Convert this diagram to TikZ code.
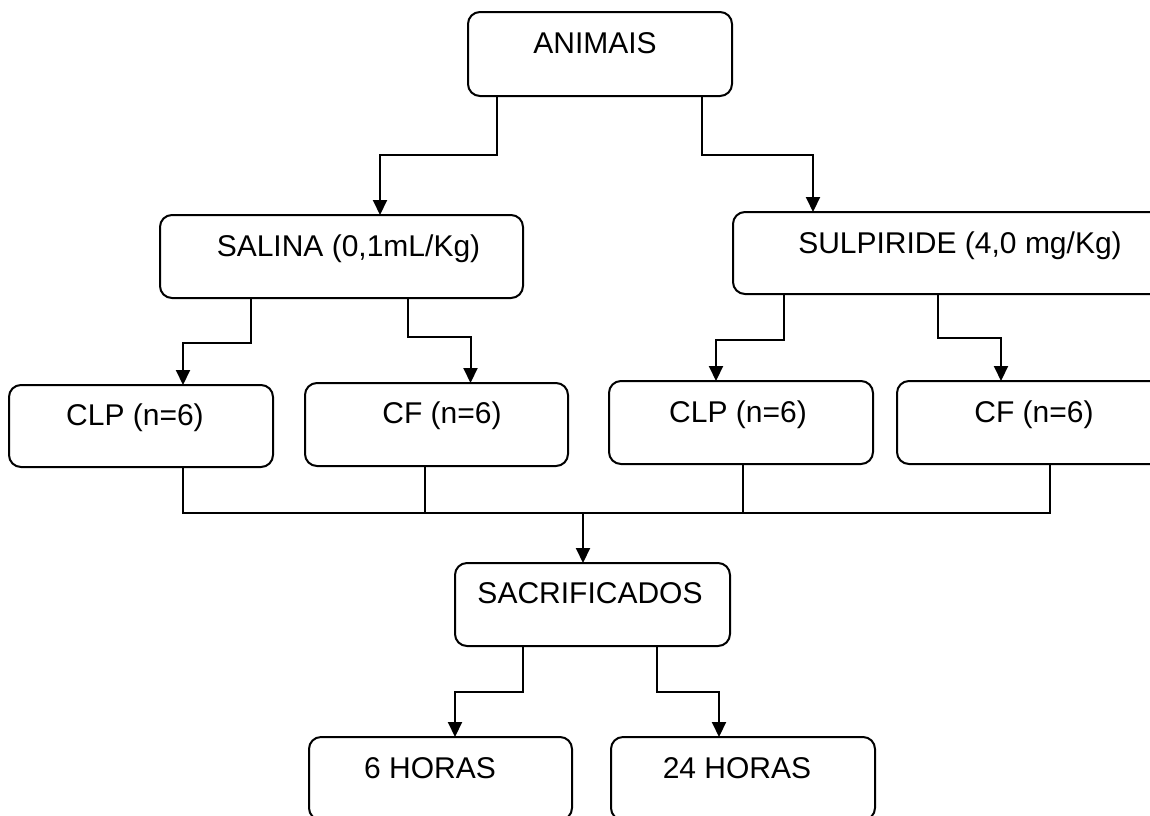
\documentclass[tikz,border=0pt]{standalone}
\usepackage{fontspec}
\setmainfont{Liberation Sans}
\usetikzlibrary{arrows.meta}
\tikzset{
  box/.style={draw=black, line width=2pt, rounded corners=12pt, inner sep=0pt, outer sep=0pt, fill=white},
  lbl/.style={anchor=base, inner sep=0pt, font=\fontsize{30pt}{36pt}\selectfont},
  conn/.style={draw=black, line width=2pt},
  arr/.style={conn, -{Triangle[width=14pt,length=15pt]}}
}
\begin{document}
\begin{tikzpicture}[x=1pt,y=-1pt]
\useasboundingbox (0,0) rectangle (1150,815);
\clip (0,0) rectangle (1150,815);
\fill[white] (0,0) rectangle (1150,815);
% boxes
\node[box, minimum width=264pt, minimum height=84pt] (animais) at (600,54) {};
\node[box, minimum width=363pt, minimum height=83pt] (salina) at (341.5,256.5) {};
\node[box, minimum width=437pt, minimum height=82pt] (sulpiride) at (951.5,253) {};
\node[box, minimum width=264pt, minimum height=82pt] (clp1) at (141,426) {};
\node[box, minimum width=263pt, minimum height=83pt] (cf1) at (436.5,424.5) {};
\node[box, minimum width=264pt, minimum height=83pt] (clp2) at (741,422.5) {};
\node[box, minimum width=266pt, minimum height=83pt] (cf2) at (1030,422.5) {};
\node[box, minimum width=275pt, minimum height=83pt] (sacr) at (592.5,604.5) {};
\node[box, minimum width=263pt, minimum height=83pt] (h6) at (440.5,778.5) {};
\node[box, minimum width=264pt, minimum height=83pt] (h24) at (743,778.5) {};
% labels
\node[lbl] (t-animais) at (595,53) {ANIMAIS};
\node[lbl] (t-salina) at (348.5,256) {SALINA (0,1mL/Kg)};
\node[lbl] (t-sulpiride) at (960,253) {SULPIRIDE (4,0 mg/Kg)};
\node[lbl] (t-clp1) at (135,425) {CLP (n=6)};
\node[lbl] (t-cf1) at (442,423) {CF (n=6)};
\node[lbl] (t-clp2) at (738,422) {CLP (n=6)};
\node[lbl] (t-cf2) at (1034,422) {CF (n=6)};
\node[lbl] (t-sacr) at (590,603) {SACRIFICADOS};
\node[lbl] (t-h6) at (430,778) {6 HORAS};
\node[lbl] (t-h24) at (737,778) {24 HORAS};
% connectors
\draw[arr] ([xshift=-103pt]animais.south) -- ++(0,59) -| ([xshift=38.5pt]salina.north);
\draw[arr] ([xshift=102pt]animais.south) -- ++(0,59) -| ([xshift=-138.5pt]sulpiride.north);
\draw[arr] ([xshift=-90.5pt]salina.south) -- ++(0,45) -| ([xshift=42pt]clp1.north);
\draw[arr] ([xshift=66.5pt]salina.south) -- ++(0,39) -| ([xshift=34pt]cf1.north);
\draw[arr] ([xshift=-167.5pt]sulpiride.south) -- ++(0,46) -| ([xshift=-25pt]clp2.north);
\draw[arr] ([xshift=-13.5pt]sulpiride.south) -- ++(0,44) -| ([xshift=-29pt]cf2.north);
\coordinate (jn) at (583,513);
\draw[conn] ([xshift=42pt]clp1.south) |- (jn);
\draw[conn] ([xshift=-11.5pt]cf1.south) |- (jn);
\draw[conn] ([xshift=2pt]clp2.south) |- (jn);
\draw[conn] ([xshift=20pt]cf2.south) |- (jn);
\draw[arr] (jn) -- ([xshift=-9.5pt]sacr.north);
\draw[arr] ([xshift=-69.5pt]sacr.south) -- ++(0,46) -| ([xshift=14.5pt]h6.north);
\draw[arr] ([xshift=64.5pt]sacr.south) -- ++(0,46) -| ([xshift=-24pt]h24.north);
\end{tikzpicture}
\end{document}
